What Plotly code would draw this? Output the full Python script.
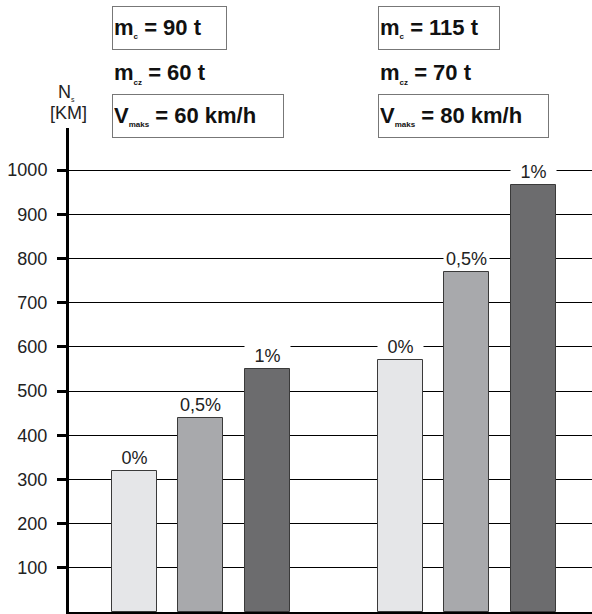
import plotly.graph_objects as go

# Data
groups = ["A", "B"]
slopes = ["0%", "0,5%", "1%"]
values_group_a = [320, 440, 550]
values_group_b = [570, 770, 965]
bar_colors = ["#e5e6e8", "#a8a9ac", "#6c6c6e"]
y_ticks = [100, 200, 300, 400, 500, 600, 700, 800, 900, 1000]
header_a = ["m|c| = 90 t", "m|cz| = 60 t", "V|maks| = 60 km/h"]
header_b = ["m|c| = 115 t", "m|cz| = 70 t", "V|maks| = 80 km/h"]

group_values = [values_group_a, values_group_b]
headers = [header_a, header_b]

FONT = "Liberation Sans, Arial, sans-serif"
W, H = 592, 614
plot_left, plot_top, plot_bottom = 69, 128, 612
ph = plot_bottom - plot_top
pw = W - plot_left
px_per_unit = 0.442  # pixels per value unit


def py(ypix):
    return (plot_bottom - ypix) / ph


def px(xpix):
    return (xpix - plot_left) / pw


def fmt(s):
    a, b, c = s.split("|")
    return a + '<sub><span style="font-size:8px">' + b + "</span></sub>" + c


fig = go.Figure()

xs, ys, cs = [], [], []
for g, vals in enumerate(group_values):
    for i, v in enumerate(vals):
        xs.append(g * 4 + i + 1)
        ys.append(v)
        cs.append(bar_colors[i])

fig.add_trace(go.Bar(
    x=xs, y=ys, width=0.68,
    marker=dict(color=cs, line=dict(color="#3a3a3a", width=1)),
    hoverinfo="skip", showlegend=False,
))

annotations = []
k = 0
for g, vals in enumerate(group_values):
    for i, v in enumerate(vals):
        annotations.append(dict(
            x=xs[k], y=v, xref="x", yref="y", text=slopes[i],
            showarrow=False, yanchor="middle", yshift=13,
            font=dict(family=FONT, size=18, color="#222"),
            bgcolor="white", width=43, height=18, borderpad=1,
        ))
        k += 1

# header boxes: (row index, y center px, widths per group, boxed)
rows = [(0, 27.5, [111, 118], True), (1, 73, [None, None], False), (2, 116, [168, 167], True)]
for g in range(2):
    for r, yc, widths, boxed in rows:
        a = dict(
            x=g * 4 + 1 - 0.34, y=py(yc), xref="x", yref="paper",
            xanchor="left", yanchor="middle", text="<b>" + fmt(headers[g][r]) + "</b>",
            showarrow=False, align="left",
            font=dict(family=FONT, size=22, color="#111"),
        )
        if boxed:
            a.update(width=widths[g], height=40, bordercolor="#777", borderwidth=1, borderpad=1)
        else:
            a.update(borderpad=1)
        annotations.append(a)

# y-axis label
annotations.append(dict(
    x=px(66), y=py(93), xref="paper", yref="paper",
    text='N<sub><span style="font-size:7px">s</span></sub>',
    showarrow=False, xanchor="center", yanchor="middle",
    font=dict(family=FONT, size=18, color="#222"), borderpad=0,
))
annotations.append(dict(
    x=px(68.5), y=py(113), xref="paper", yref="paper", text="[KM]",
    showarrow=False, xanchor="center", yanchor="middle",
    font=dict(family=FONT, size=18, color="#222"), borderpad=0,
))

fig.update_layout(
    width=W, height=H,
    margin=dict(l=plot_left, r=0, t=plot_top, b=H - plot_bottom),
    plot_bgcolor="white", paper_bgcolor="white",
    font=dict(family=FONT, size=18, color="#222"),
    annotations=annotations,
    bargap=0,
)
fig.update_xaxes(
    range=[0.02, 0.02 + pw / 66.5], showgrid=False, zeroline=False,
    showticklabels=False, ticks="", showline=True, linecolor="black", linewidth=3,
)
fig.update_yaxes(
    range=[0, ph / px_per_unit], tickvals=y_ticks,
    showgrid=True, gridcolor="black", gridwidth=1, zeroline=False,
    showline=True, linecolor="black", linewidth=3,
    ticks="outside", ticklen=9, tickwidth=3, tickcolor="black",
    ticklabelstandoff=6,
    tickfont=dict(family=FONT, size=18, color="#222"),
)

fig.write_html(
    "out.html",
    config={"displayModeBar": False},
    post_script="document.body.style.margin='0px';",
)
